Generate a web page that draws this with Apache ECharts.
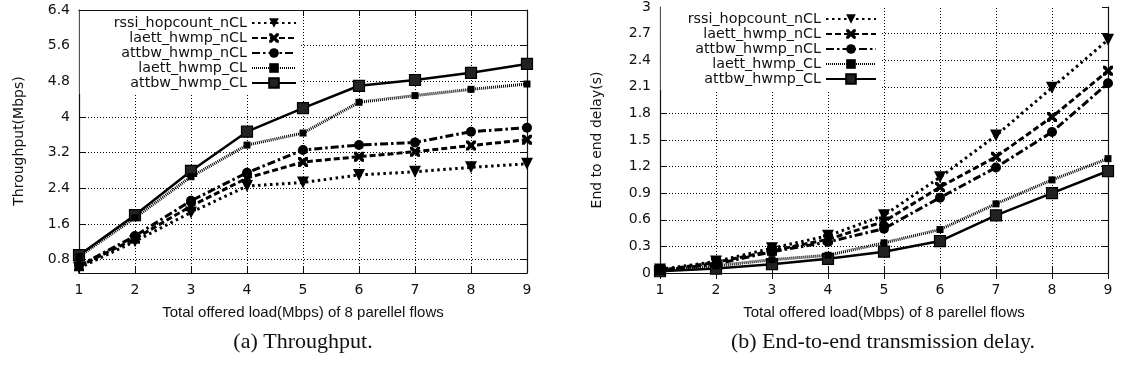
<!DOCTYPE html>
<html><head><meta charset="utf-8">
<script src="https://cdn.jsdelivr.net/npm/echarts@6/dist/echarts.min.js"></script>
<style>html,body{margin:0;padding:0;background:#fff}#c{width:1128px;height:376px}</style>
</head><body><div id="c"></div>
<script>
const xValues = [1, 2, 3, 4, 5, 6, 7, 8, 9];
const seriesNames = ['rssi_hopcount_nCL', 'laett_hwmp_nCL', 'attbw_hwmp_nCL', 'laett_hwmp_CL', 'attbw_hwmp_CL'];
// Throughput (Mbps)
const rssiTp   = [0.61, 1.21, 1.86, 2.45, 2.53, 2.70, 2.77, 2.87, 2.95];
const laettNTp = [0.65, 1.27, 2.00, 2.63, 2.99, 3.11, 3.22, 3.36, 3.49];
const attbwNTp = [0.66, 1.33, 2.12, 2.75, 3.26, 3.37, 3.43, 3.67, 3.76];
const laettCTp = [0.87, 1.74, 2.66, 3.37, 3.64, 4.33, 4.48, 4.62, 4.74];
const attbwCTp = [0.90, 1.80, 2.79, 3.67, 4.20, 4.70, 4.83, 4.99, 5.19];
// End to end delay (s)
const rssiD   = [0.04, 0.13, 0.28, 0.42, 0.65, 1.08, 1.55, 2.09, 2.63];
const laettND = [0.03, 0.12, 0.25, 0.38, 0.58, 0.97, 1.31, 1.76, 2.28];
const attbwND = [0.03, 0.10, 0.24, 0.35, 0.50, 0.85, 1.19, 1.59, 2.14];
const laettCD = [0.03, 0.08, 0.15, 0.20, 0.34, 0.49, 0.78, 1.05, 1.29];
const attbwCD = [0.02, 0.05, 0.10, 0.16, 0.24, 0.36, 0.65, 0.90, 1.15];
// tick labels
const tpTicks = [0.8, 1.6, 2.4, 3.2, 4, 4.8, 5.6, 6.4];
const delayTicks = [0, 0.3, 0.6, 0.9, 1.2, 1.5, 1.8, 2.1, 2.4, 2.7, 3];
// texts
const xTitle = 'Total offered load(Mbps) of 8 parellel flows';
const yTitleTp = 'Throughput(Mbps)';
const yTitleDelay = 'End to end delay(s)';
const captionA = '(a) Throughput.';
const captionB = '(b) End-to-end transmission delay.';

const FONT = 'DejaVu Sans';
const INK = '#000';
const crossPath = 'path://M0,0 L2.6,0 L5,2.6 L7.4,0 L10,0 L10,2.6 L7.4,5 L10,7.4 L10,10 L7.4,10 L5,7.4 L2.6,10 L0,10 L0,7.4 L2.6,5 L0,2.6 Z';

const styles = [
  {symbol: 'triangle', symbolRotate: 180, symbolSize: 12, lineStyle: {type: [2.5, 3.5], width: 3}},
  {symbol: crossPath, symbolSize: 10, lineStyle: {type: [6, 3], width: 3}},
  {symbol: 'circle', symbolSize: 10, lineStyle: {type: [8, 3, 2.5, 3], width: 3}},
  {symbol: 'rect', symbolSize: 7, lineStyle: {type: [1, 1], width: 3}},
  {symbol: 'rect', symbolSize: 11, lineStyle: {type: 'solid', width: 2.5}, itemStyle: {color: '#222', borderColor: INK, borderWidth: 1.2}}
];

function pairs(arr) { return xValues.map((x, i) => [x, arr[i]]); }

function makeSeries(name, idx, data, xi, yi) {
  const s = styles[idx];
  return {
    name: name, type: 'line', xAxisIndex: xi, yAxisIndex: yi,
    data: pairs(data), symbol: s.symbol, symbolSize: s.symbolSize,
    symbolRotate: s.symbolRotate || 0, showSymbol: true,
    lineStyle: Object.assign({color: INK, cap: 'butt'}, s.lineStyle),
    itemStyle: s.itemStyle || {color: INK},
    emphasis: {disabled: true}, z: 5 - idx + 2
  };
}

// dotted grid lines drawn at the axis tick values
function gridSeries(xi, yi, yTicks) {
  return {
    name: 'grid' + xi, type: 'line', xAxisIndex: xi, yAxisIndex: yi, data: [],
    silent: true, z: 1,
    markLine: {
      silent: true, z: 1, animation: false, symbol: ['none', 'none'],
      label: {show: false}, emphasis: {disabled: true},
      lineStyle: {color: '#000', width: 1, type: [1, 2], opacity: 1},
      data: yTicks.map(v => ({yAxis: v})).concat(xValues.slice(1, -1).map(v => ({xAxis: v})))
    }
  };
}

function axisLineStyle() { return {show: true, lineStyle: {color: '#111', width: 1.2}}; }
function tickIn(extra) { return Object.assign({show: true, inside: true, length: 6}, extra || {}); }
function labelStyle(extra) { return Object.assign({fontFamily: FONT, fontSize: 14, color: '#111'}, extra || {}); }

function xPair(gi) {
  return [
    {type: 'value', gridIndex: gi, position: 'bottom', min: 1, max: 9, interval: 1,
     axisLine: axisLineStyle(), axisTick: tickIn(), splitLine: {show: false},
     axisLabel: labelStyle({margin: 10})},
    {type: 'value', gridIndex: gi, position: 'top', min: 1, max: 9, interval: 1,
     axisLine: axisLineStyle(), axisTick: tickIn(), splitLine: {show: false}, axisLabel: {show: false}}
  ];
}

function legendFor(rightPx, topPx, iconW, padL) {
  return {data: seriesNames, orient: 'vertical', align: 'right', right: rightPx, top: topPx,
    itemWidth: iconW, itemHeight: 12, itemGap: 1, padding: [5, 3, 4, padL],
    backgroundColor: '#fff', selectedMode: false, z: 4,
    textStyle: {fontFamily: FONT, fontSize: 14.3, color: '#111'}};
}

function txt(text, x, y, font, rot) {
  return {type: 'text', x: x, y: y, rotation: rot || 0,
    style: {text: text, x: 0, y: 0, align: 'center', verticalAlign: 'middle', font: font, fill: '#111'}};
}

const option = {
  backgroundColor: '#fff',
  animation: false,
  grid: [
    {left: 79, top: 10, width: 448, height: 263},
    {left: 660, top: 6, width: 448, height: 267}
  ],
  xAxis: [].concat(xPair(0), xPair(1)),
  yAxis: [
    {type: 'value', gridIndex: 0, position: 'left', min: 0.5, max: 6.4,
     axisLine: axisLineStyle(), axisTick: tickIn({customValues: tpTicks}), splitLine: {show: false},
     axisLabel: labelStyle({customValues: tpTicks, margin: 9})},
    {type: 'value', gridIndex: 0, position: 'right', min: 0.5, max: 6.4,
     axisLine: axisLineStyle(), axisTick: tickIn({customValues: tpTicks}),
     splitLine: {show: false}, axisLabel: {show: false, customValues: tpTicks}},
    {type: 'value', gridIndex: 1, position: 'left', min: 0, max: 3, interval: 0.3,
     axisLine: axisLineStyle(), axisTick: tickIn(), splitLine: {show: false},
     axisLabel: labelStyle({margin: 9})},
    {type: 'value', gridIndex: 1, position: 'right', min: 0, max: 3, interval: 0.3,
     axisLine: axisLineStyle(), axisTick: tickIn(), splitLine: {show: false}, axisLabel: {show: false}}
  ],
  legend: [legendFor(828, 11, 44, 34), legendFor(248, 7, 50, 27)],
  graphic: [
    txt(xTitle, 303, 313, '15px "Liberation Sans"'),
    txt(xTitle, 884, 313, '15px "Liberation Sans"'),
    txt(yTitleTp, 19, 141, '14px "DejaVu Sans"', Math.PI / 2),
    txt(yTitleDelay, 597, 140, '14px "DejaVu Sans"', Math.PI / 2),
    txt(captionA, 303, 342, '22px "Liberation Serif"'),
    txt(captionB, 883, 342, '22px "Liberation Serif"')
  ],
  series: [
    gridSeries(0, 0, tpTicks.slice(0, -1)),
    gridSeries(2, 2, delayTicks.slice(1, -1)),
    makeSeries(seriesNames[0], 0, rssiTp, 0, 0),
    makeSeries(seriesNames[1], 1, laettNTp, 0, 0),
    makeSeries(seriesNames[2], 2, attbwNTp, 0, 0),
    makeSeries(seriesNames[3], 3, laettCTp, 0, 0),
    makeSeries(seriesNames[4], 4, attbwCTp, 0, 0),
    makeSeries(seriesNames[0], 0, rssiD, 2, 2),
    makeSeries(seriesNames[1], 1, laettND, 2, 2),
    makeSeries(seriesNames[2], 2, attbwND, 2, 2),
    makeSeries(seriesNames[3], 3, laettCD, 2, 2),
    makeSeries(seriesNames[4], 4, attbwCD, 2, 2)
  ]
};
const chart = echarts.init(document.getElementById('c'), null, {renderer: 'canvas'});
chart.setOption(option);
</script></body></html>
